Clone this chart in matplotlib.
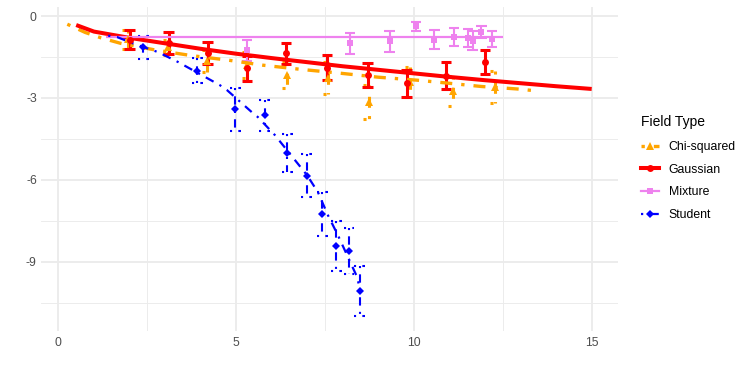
import matplotlib
matplotlib.use('Agg')
import matplotlib.pyplot as plt
from matplotlib.collections import LineCollection
from matplotlib.lines import Line2D

plt.rcParams['font.family'] = ['Liberation Sans', 'DejaVu Sans']

# ---- data ----
series = ['Chi-squared', 'Gaussian', 'Mixture', 'Student']

# fitted curves
chi_line_x = [0.25, 0.75, 1.2, 1.75, 2.75, 3.75, 4.8, 5.75, 6.8, 7.9, 9.0, 10.1, 10.9, 11.9, 12.9, 13.45]
chi_line_y = [-0.3, -0.6, -0.8, -1.0, -1.25, -1.45, -1.62, -1.8, -1.95, -2.09, -2.24, -2.35, -2.45, -2.58, -2.67, -2.74]
gau_line_x = [0.5, 1, 2, 3, 4, 5, 6, 7, 8, 9, 10, 11, 12, 13, 14, 15]
gau_line_y = [-0.33, -0.57, -0.80, -1.0, -1.2, -1.38, -1.54, -1.69, -1.84, -1.97, -2.10, -2.23, -2.35, -2.46, -2.57, -2.67]
mix_line_x = [1.35, 12.5]
mix_line_y = [-0.78, -0.78]
stu_line_x = [1.4, 1.65, 2.07, 2.80, 3.36, 4.54, 4.74, 5.44, 5.61, 6.09, 6.20, 6.99, 7.30, 7.58, 7.86, 8.40, 8.48]
stu_line_y = [-0.72, -0.77, -0.99, -1.32, -1.68, -2.53, -2.71, -3.52, -3.70, -4.36, -4.54, -5.82, -6.45, -7.29, -8.02, -9.55, -10.0]

# observations with error bars
chi_x = [1.95, 3.08, 4.18, 5.3, 6.43, 7.58, 8.73, 9.89, 11.1, 12.28]
chi_y = [-0.85, -1.15, -1.65, -1.8, -2.16, -2.27, -3.15, -2.42, -2.75, -2.6]
chi_err = [0.35, 0.28, 0.4, 0.48, 0.48, 0.59, 0.62, 0.55, 0.55, 0.58]

gau_x = [2.0, 3.1, 4.2, 5.3, 6.4, 7.55, 8.7, 9.8, 10.9, 12.0]
gau_y = [-0.86, -0.99, -1.36, -1.92, -1.36, -1.89, -2.16, -2.47, -2.18, -1.68]
gau_err = [0.35, 0.40, 0.40, 0.46, 0.38, 0.46, 0.44, 0.49, 0.49, 0.44]

mix_x = [5.3, 8.2, 9.32, 10.06, 10.57, 11.13, 11.52, 11.65, 11.9, 12.2]
mix_y = [-1.25, -1.0, -0.93, -0.38, -0.86, -0.78, -0.82, -0.9, -0.58, -0.85]
mix_err = [0.38, 0.38, 0.38, 0.17, 0.33, 0.33, 0.33, 0.35, 0.22, 0.3]

stu_x = [2.39, 3.91, 4.98, 5.80, 6.44, 6.98, 7.42, 7.82, 8.17, 8.47]
stu_y = [-1.15, -2.0, -3.42, -3.64, -5.02, -5.84, -7.25, -8.42, -8.6, -10.07]
stu_err = [0.42, 0.46, 0.79, 0.57, 0.70, 0.79, 0.82, 0.92, 0.85, 0.92]

DOTDASH = (1, 2.7, 3.6, 2.7)
BLUE_DASH = (1, 3, 4, 3)

fig = plt.figure(figsize=(7.47, 3.74), dpi=100)
ax = fig.add_axes([41 / 747, 1 - 331 / 374, 577 / 747, 324 / 374])
ax.set_xlim(-0.49, 15.74)
ax.set_ylim(-11.53, 0.33)

# grid a la theme_minimal
for v in [0, 5, 10, 15]:
    ax.axvline(v, color='#EBEBEB', lw=1.3, zorder=0)
for v in [2.5, 7.5, 12.5]:
    ax.axvline(v, color='#EBEBEB', lw=0.65, zorder=0)
for v in [0, -3, -6, -9]:
    ax.axhline(v, color='#EBEBEB', lw=1.3, zorder=0)
for v in [-1.5, -4.5, -7.5, -10.5]:
    ax.axhline(v, color='#EBEBEB', lw=0.65, zorder=0)


def errorbars(x, y, err, color, lw, dashes=None, w=0.15):
    segs = []
    for xi, yi, ei in zip(x, y, err):
        t, b = yi + ei, yi - ei
        segs.append([(xi - w, t), (xi + w, t)])
        segs.append([(xi, t), (xi, b)])
        segs.append([(xi - w, b), (xi + w, b)])
    ls = 'solid' if dashes is None else (0, dashes)
    lc = LineCollection(segs, colors=color, linewidths=lw, linestyles=ls, zorder=2)
    lc.set_capstyle('butt')
    ax.add_collection(lc)


errorbars(chi_x, chi_y, chi_err, 'orange', 2.2, DOTDASH)
errorbars(gau_x, gau_y, gau_err, 'red', 2.2)
errorbars(mix_x, mix_y, mix_err, 'violet', 1.5)
errorbars(stu_x, stu_y, stu_err, 'blue', 1.5, BLUE_DASH)

ax.plot(chi_line_x, chi_line_y, color='orange', lw=2.4, ls=(0, DOTDASH), dash_capstyle='butt', zorder=3)
ax.plot(gau_line_x, gau_line_y, color='red', lw=2.9, solid_capstyle='butt', zorder=3)
ax.plot(mix_line_x, mix_line_y, color='violet', lw=1.6, solid_capstyle='butt', zorder=3)
ax.plot(stu_line_x, stu_line_y, color='blue', lw=1.6, ls=(0, BLUE_DASH), dash_capstyle='butt', zorder=3)

ax.plot(chi_x, chi_y, ls='none', marker='^', ms=5.5, color='orange', mew=0, zorder=4)
ax.plot(gau_x, gau_y, ls='none', marker='o', ms=5, color='red', mew=0, zorder=4)
ax.plot(mix_x, mix_y, ls='none', marker='s', ms=5, color='violet', mew=0, zorder=4)
ax.plot(stu_x, stu_y, ls='none', marker='D', ms=4.2, color='blue', mew=0, zorder=4)

for s in ax.spines.values():
    s.set_visible(False)
ax.set_xticks([0, 5, 10, 15])
ax.set_xticklabels(['0', '5', '10', '15'])
ax.set_yticks([0, -3, -6, -9])
ax.set_yticklabels(['0', '-3', '-6', '-9'])
ax.tick_params(axis='both', length=0, labelsize=8.8, labelcolor='#4D4D4D')
ax.tick_params(axis='x', pad=4)
ax.tick_params(axis='y', pad=3)

handles = [
    Line2D([], [], color='orange', lw=2.4, ls=(0, DOTDASH), dash_capstyle='butt', marker='^', ms=5.5, mew=0),
    Line2D([], [], color='red', lw=2.9, marker='o', ms=5, mew=0),
    Line2D([], [], color='violet', lw=1.6, marker='s', ms=5, mew=0),
    Line2D([], [], color='blue', lw=1.6, ls=(0, BLUE_DASH), dash_capstyle='butt', marker='D', ms=4.2, mew=0),
]
fig.text(641 / 747, 1 - 122 / 374, 'Field Type', fontsize=10, va='center', ha='left')
fig.legend(handles, series, loc='upper left',
           bbox_to_anchor=(641 / 747, 1 - 141 / 374), frameon=False,
           fontsize=8.8, handlelength=1.45, handletextpad=0.8,
           labelspacing=0.87, borderpad=0, borderaxespad=0)

fig.savefig('out.png', dpi=100)
